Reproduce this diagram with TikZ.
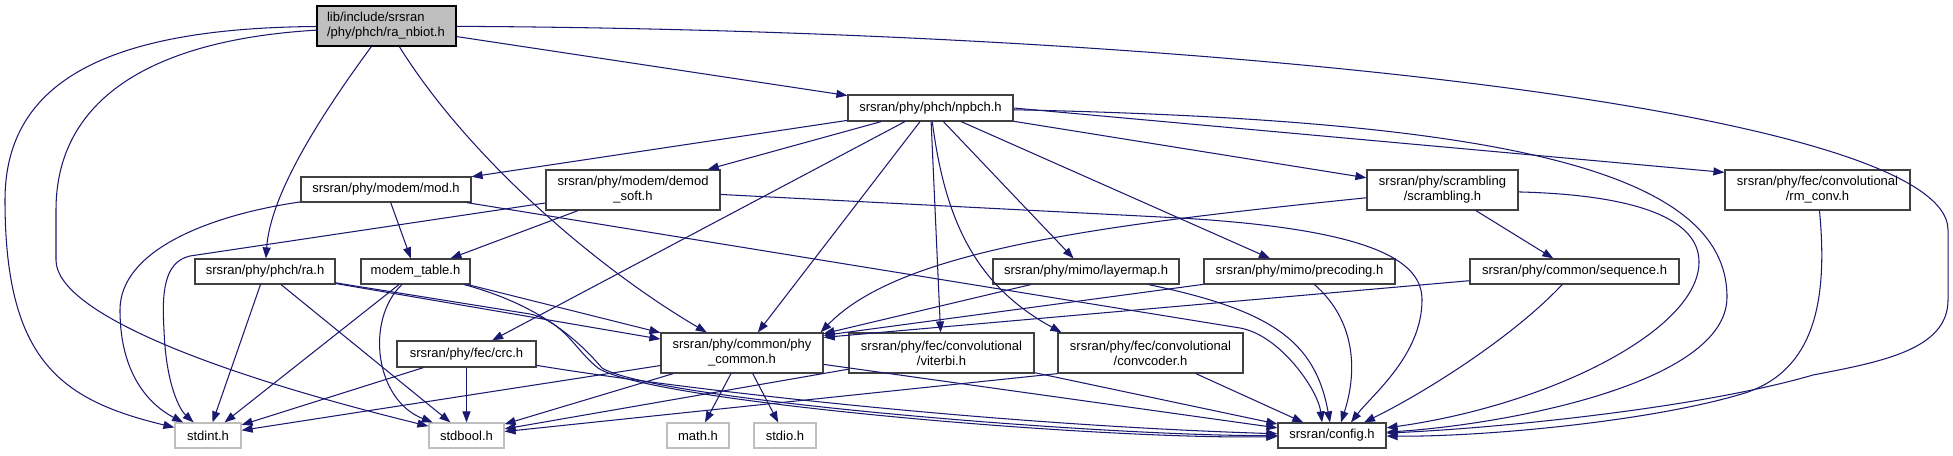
\documentclass[tikz,border=0pt]{standalone}
\usepackage{fontspec}
\setmainfont{Liberation Sans}
\usetikzlibrary{arrows.meta}
\definecolor{edgeblue}{HTML}{191970}
\definecolor{greyA}{HTML}{BFBFBF}
\definecolor{greyB}{HTML}{404040}
\tikzset{
  nd/.style={draw=greyB, line width=1.2pt, fill=white, inner sep=0pt, align=center,
    font=\fontsize{13}{15}\selectfont},
  ext/.style={nd, draw=greyA},
  rootnd/.style={nd, draw=black, fill=greyA},
  e/.style={draw=edgeblue, line width=1.05pt, -{Triangle[length=11pt,width=8pt]}},
}
\begin{document}
\begin{tikzpicture}[x=1pt,y=-1pt]
\useasboundingbox (0,0) rectangle (1953,455);
% nodes
\node[rootnd, minimum width=139pt, minimum height=40pt, text width=119pt, align=left] (root) at (386.5,26) {lib/include/srsran\\/phy/phch/ra\_nbiot.h};
\node[nd, minimum width=165pt, minimum height=26pt] (npbch) at (930.5,108) {srsran/phy/phch/npbch.h};
\node[nd, minimum width=170pt, minimum height=25pt] (mod) at (386,189.5) {srsran/phy/modem/mod.h};
\node[nd, minimum width=174pt, minimum height=40pt] (demod) at (633,190) {srsran/phy/modem/demod\\\_soft.h};
\node[nd, minimum width=151pt, minimum height=40pt] (scr) at (1442.5,190) {srsran/phy/scrambling\\/scrambling.h};
\node[nd, minimum width=185pt, minimum height=40pt] (rmconv) at (1817.5,190) {srsran/phy/fec/convolutional\\/rm\_conv.h};
\node[nd, minimum width=140pt, minimum height=25pt] (ra) at (265,271.5) {srsran/phy/phch/ra.h};
\node[nd, minimum width=109pt, minimum height=25pt] (mtab) at (415.5,271.5) {modem\_table.h};
\node[nd, minimum width=186pt, minimum height=25pt] (layer) at (1086,271.5) {srsran/phy/mimo/layermap.h};
\node[nd, minimum width=191pt, minimum height=25pt] (prec) at (1299.5,271.5) {srsran/phy/mimo/precoding.h};
\node[nd, minimum width=209pt, minimum height=25pt] (seq) at (1574.5,271.5) {srsran/phy/common/sequence.h};
\node[nd, minimum width=139pt, minimum height=26pt] (crc) at (466.5,354) {srsran/phy/fec/crc.h};
\node[nd, minimum width=162pt, minimum height=40pt] (phyc) at (742,353) {srsran/phy/common/phy\\\_common.h};
\node[nd, minimum width=185pt, minimum height=40pt] (vit) at (941.5,353) {srsran/phy/fec/convolutional\\/viterbi.h};
\node[nd, minimum width=185pt, minimum height=40pt] (conv) at (1150.5,353) {srsran/phy/fec/convolutional\\/convcoder.h};
\node[ext, minimum width=66pt, minimum height=25pt] (stdint) at (208,435.5) {stdint.h};
\node[ext, minimum width=75pt, minimum height=25pt] (stdbool) at (466.5,435.5) {stdbool.h};
\node[ext, minimum width=62pt, minimum height=25pt] (math) at (698,435.5) {math.h};
\node[ext, minimum width=62pt, minimum height=25pt] (stdio) at (785,435.5) {stdio.h};
\node[nd, minimum width=108pt, minimum height=25pt] (config) at (1332,435.5) {srsran/config.h};
% edges from root
\draw[e] (root) .. controls (110,28) and (5,80) .. (5,200) .. controls (5,360) and (60,400) .. (stdint);
\draw[e] (root) .. controls (150,40) and (56,100) .. (56,210) -- (56,260) .. controls (56,310) and (200,370) .. (stdbool);
\draw[e] (root) .. controls (310,130) and (270,200) .. (ra);
\draw[e] (root) .. controls (470,160) and (600,270) .. (phyc);
\draw[e] (root) -- (npbch);
\draw[e] (root) .. controls (1200,30) and (1948,110) .. (1948,230) -- (1948,300) .. controls (1948,350) and (1880,362) .. (1813,375) .. controls (1700,408) and (1500,428) .. (config);
% edges from npbch
\draw[e] (npbch) -- (mod);
\draw[e] (npbch) -- (demod);
\draw[e] (npbch) -- (crc);
\draw[e] (npbch) -- (phyc);
\draw[e] (npbch) -- (vit);
\draw[e] (npbch) .. controls (945,220) and (975,285) .. ([xshift=4pt]conv.north west);
\draw[e] (npbch) -- (layer);
\draw[e] (npbch) -- (prec);
\draw[e] (npbch) -- (scr);
\draw[e] (npbch.east) -- ([yshift=-3pt]rmconv.north west);
\draw[e] (npbch) .. controls (1500,120) and (1727,170) .. (1727,297) .. controls (1727,385) and (1500,425) .. (config);
% mod, demod
\draw[e] (mod) .. controls (210,215) and (120,250) .. (120,310) .. controls (120,375) and (150,405) .. (stdint);
\draw[e] (mod) -- (mtab);
\draw[e] (mod) -- (1240,328) .. controls (1280,335) and (1318,390) .. ([xshift=-10pt]config.north);
\draw[e] (demod) -- (190,256) .. controls (163,262) and (162,295) .. (164,330) .. controls (166,385) and (180,410) .. (stdint);
\draw[e] (demod) -- (mtab);
\draw[e] (demod) -- (1180,218) .. controls (1385,230) and (1422,265) .. (1422,300) .. controls (1422,355) and (1372,395) .. ([xshift=19pt]config.north);
% scrambling, rm_conv
\draw[e] (scr) .. controls (1100,225) and (900,250) .. ([xshift=-3pt]phyc.north east);
\draw[e] (scr) -- (seq);
\draw[e] (scr) .. controls (1640,195) and (1699,220) .. (1699,262) .. controls (1699,330) and (1550,405) .. (config);
\draw[e] (rmconv) .. controls (1828,300) and (1815,370) .. (1745,393) .. controls (1650,422) and (1480,437) .. (config);
% ra, modem_table
\draw[e] (ra) -- (stdint);
\draw[e] (ra) -- (stdbool);
\draw[e] (ra) -- (phyc);
\draw[e] (ra) -- (530,314) .. controls (565,322) and (575,350) .. (598,368) .. controls (650,402) and (1100,440) .. (config);
\draw[e] (mtab) -- (stdint);
\draw[e] (mtab) .. controls (365,320) and (375,400) .. (stdbool);
\draw[e] (mtab) -- (phyc);
\draw[e] (mtab) .. controls (540,305) and (578,340) .. (602,368) .. controls (655,400) and (1100,436) .. (config);
% layermap, precoding, sequence
\draw[e] (layer) -- (phyc);
\draw[e] (layer) .. controls (1270,310) and (1315,340) .. ([xshift=-2pt]config.north);
\draw[e] (prec) -- ([yshift=-3pt]phyc.north east);
\draw[e] (prec) .. controls (1355,320) and (1358,370) .. ([xshift=9pt]config.north);
\draw[e] (seq) -- ([yshift=-5pt]phyc.north east);
\draw[e] (seq) .. controls (1510,340) and (1420,395) .. ([xshift=32pt]config.north);
% crc
\draw[e] (crc) -- (stdint);
\draw[e] (crc) -- (stdbool);
\draw[e] (crc) .. controls (700,392) and (1000,425) .. (config);
% phy_common
\draw[e] (phyc) -- (stdint);
\draw[e] (phyc) -- (stdbool);
\draw[e] (phyc) -- (math);
\draw[e] (phyc) -- (stdio);
\draw[e] (phyc) -- (config);
% viterbi, convcoder
\draw[e] (vit) -- (stdbool);
\draw[e] (vit) -- (config);
\draw[e] (conv.south west) -- (stdbool);
\draw[e] (conv) -- (config);
\end{tikzpicture}
\end{document}
